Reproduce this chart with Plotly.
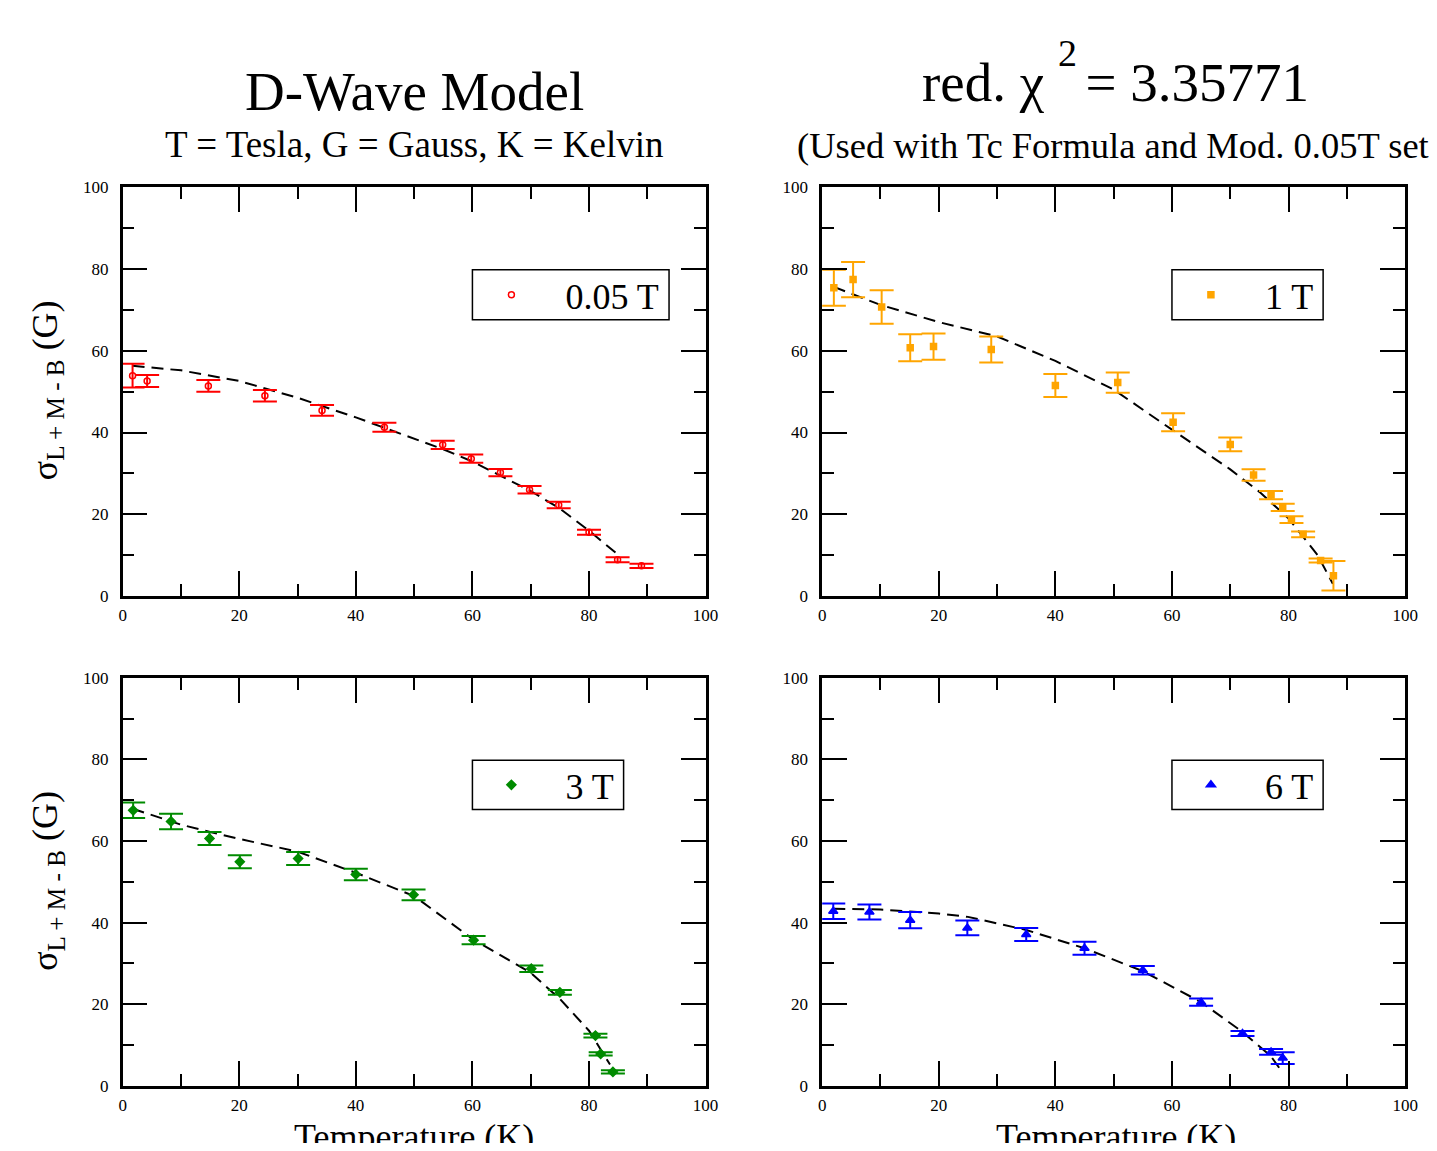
import plotly.graph_objects as go
from plotly.subplots import make_subplots

# ---------------- data ----------------
T_005 = [1.7, 4.2, 14.7, 24.4, 34.2, 44.9, 54.9, 59.8, 64.8, 69.8, 74.8, 80.0, 84.9, 89.0]
S_005 = [53.9, 52.6, 51.4, 49.0, 45.4, 41.3, 37.0, 33.6, 30.2, 26.0, 22.3, 15.6, 8.9, 7.4]
E_005 = [2.9, 1.45, 1.45, 1.4, 1.3, 1.1, 1.0, 1.0, 0.9, 0.9, 0.8, 0.6, 0.6, 0.5]
FT_005 = [1.7, 10, 20, 30, 40, 50, 55, 60, 65, 70, 75, 80, 85]
FS_005 = [56.3, 55.2, 52.6, 48.5, 43.7, 38.5, 35.9, 32.9, 29.4, 25.7, 21.4, 16.0, 10.1]

T_1 = [2.0, 5.3, 10.2, 15.1, 19.1, 29.0, 40.0, 50.7, 60.2, 70.0, 74.0, 77.0, 79.0, 80.5, 82.5, 85.5, 87.7]
S_1 = [75.4, 77.4, 70.7, 60.7, 61.0, 60.3, 51.5, 52.2, 42.5, 37.1, 29.6, 24.7, 21.7, 18.7, 15.1, 8.7, 5.0]
E_1 = [4.4, 4.3, 4.1, 3.3, 3.2, 3.2, 2.8, 2.5, 2.2, 1.7, 1.4, 1.0, 0.9, 0.8, 0.7, 0.5, 3.6]
FT_1 = [2.0, 10, 20, 30, 40, 50, 60, 70, 75, 80, 85, 87.6]
FS_1 = [75.6, 71.2, 67.0, 63.5, 57.5, 50.5, 40.7, 31.0, 25.5, 19.0, 10.0, 3.0]

T_3 = [1.8, 8.3, 14.9, 20.1, 30.1, 40.0, 49.9, 60.2, 70.1, 75.0, 81.1, 82.0, 84.1]
S_3 = [67.5, 64.8, 60.6, 54.9, 55.7, 51.8, 46.8, 35.7, 28.7, 22.9, 12.3, 7.8, 3.4]
E_3 = [1.9, 1.9, 1.6, 1.6, 1.6, 1.4, 1.3, 1.0, 0.8, 0.6, 0.45, 0.4, 0.4]
FT_3 = [1.7, 10, 15, 20, 30, 40, 50, 60, 70, 75, 80, 83.6]
FS_3 = [67.9, 64.0, 62.2, 60.5, 57.4, 52.2, 46.5, 36.0, 27.7, 21.3, 13.5, 5.2]

T_6 = [1.9, 8.1, 15.1, 24.9, 35.0, 45.0, 55.0, 65.0, 72.1, 77.0, 79.0]
S_6 = [42.8, 42.6, 40.6, 38.7, 37.1, 33.7, 28.3, 20.5, 12.8, 8.3, 6.8]
E_6 = [1.9, 1.85, 2.0, 1.8, 1.6, 1.6, 1.05, 0.9, 0.6, 0.7, 1.45]
FT_6 = [1.9, 10, 20, 25, 35, 45, 55, 65, 72, 77, 79]
FS_6 = [43.4, 43.2, 42.2, 41.4, 38.2, 33.7, 28.1, 20.5, 13.3, 7.2, 3.2]

LABELS = ["0.05 T", "1 T", "3 T", "6 T"]
COLORS = ["#ff0000", "#ffa500", "#008b00", "#0000ff"]
SYMBOLS = ["circle-open", "square", "diamond", "triangle-up"]
SIZES = [6, 6, 7, 8]

SERIF = "Liberation Serif, Times New Roman, serif"

# the page body has an 8px margin; lay the figure out so the full page is 1437x1151
PAGE_W, PAGE_H, OFF = 1437, 1151, 8
W, H = PAGE_W - 2 * OFF, PAGE_H - 2 * OFF


def px(xp):
    return (xp - OFF) / W


def py(yp):
    return 1 - (yp - OFF) / H


fig = make_subplots(rows=2, cols=2)

sets = [
    (T_005, S_005, E_005, FT_005, FS_005, 1, 1),
    (T_1, S_1, E_1, FT_1, FS_1, 1, 2),
    (T_3, S_3, E_3, FT_3, FS_3, 2, 1),
    (T_6, S_6, E_6, FT_6, FS_6, 2, 2),
]
legnames = ["legend", "legend2", "legend3", "legend4"]

for i, (tx, sy, ey, fx, fy, r, c) in enumerate(sets):
    fig.add_trace(go.Scatter(x=fx, y=fy, mode="lines", showlegend=False,
                             line=dict(color="black", width=2, dash="12px,7px"),
                             hoverinfo="skip"), row=r, col=c)
    fig.add_trace(go.Scatter(
        x=tx, y=sy, mode="markers", name="\u00a0\u00a0" + LABELS[i], legend=legnames[i],
        marker=dict(symbol=SYMBOLS[i], size=SIZES[i], color=COLORS[i],
                    line=dict(color=COLORS[i], width=1.5)),
        error_y=dict(type="data", array=ey, visible=True, color=COLORS[i],
                     thickness=2, width=12)), row=r, col=c)

xd_left = [px(120), px(710)]
xd_right = [px(828), px(1418)]
yd_top = [py(597), py(181)]
yd_bot = [py(1095), py(680)]

axis_common = dict(range=[0, 100], dtick=20, tick0=0, ticks="inside", ticklen=25,
                   tickwidth=2, tickcolor="black", showline=True, linewidth=2.5,
                   linecolor="black", mirror="allticks", showgrid=False, zeroline=False,
                   tickfont=dict(family=SERIF, size=17, color="black"),
                   minor=dict(dtick=10, ticks="inside", ticklen=12, tickwidth=2,
                              tickcolor="black", showgrid=False))

doms = {1: (xd_left, yd_top), 2: (xd_right, yd_top), 3: (xd_left, yd_bot), 4: (xd_right, yd_bot)}
for k, (xd, yd) in doms.items():
    sfx = "" if k == 1 else str(k)
    fig.layout["xaxis" + sfx].update(domain=xd, ticklabelstandoff=2, **axis_common)
    fig.layout["yaxis" + sfx].update(domain=yd, ticklabelstandoff=8, **axis_common)

# legend boxes (x0, y0, x1, y1) in page pixels
legbox = {
    "legend": (474, 265, 673, 316),
    "legend2": (1182, 265, 1335, 316),
    "legend3": (474, 764, 627, 814),
    "legend4": (1182, 764, 1335, 814),
}
shapes = []
for ln, (x0, y0, x1, y1) in legbox.items():
    shapes.append(dict(type="rect", xref="paper", yref="paper",
                       x0=px(x0), x1=px(x1), y0=py(y1), y1=py(y0),
                       line=dict(color="black", width=1.5), fillcolor="white", layer="below"))
    fig.layout[ln] = dict(x=px(x0 + 3), y=py((y0 + y1) / 2), xanchor="left", yanchor="middle",
                          bgcolor="rgba(0,0,0,0)", borderwidth=0,
                          font=dict(family=SERIF, size=36, color="black"),
                          itemwidth=62, itemsizing="trace")

ann = []
ann.append(dict(text="D-Wave Model", x=px(415), y=py(84), font=dict(size=55)))
ann.append(dict(text="T = Tesla, G = Gauss, K = Kelvin", x=px(415), y=py(138),
                font=dict(size=37)))
ann.append(dict(text="red. χ\u00a0\u00a0\u00a0= 3.35771", x=px(1125), y=py(75),
                font=dict(size=55)))
ann.append(dict(text="2", x=px(1076), y=py(45), font=dict(size=38)))
ann.append(dict(text="(Used with Tc Formula and Mod. 0.05T set)", x=px(800), y=py(139),
                xanchor="left", font=dict(size=36.5)))
for yc in (388, 887):
    ann.append(dict(text="σ<sub>L + M - B</sub> (G)", x=px(44), y=py(yc),
                    textangle=-90, font=dict(size=36)))
for xc in (415, 1125):
    ann.append(dict(text="Temperature (K)", x=px(xc), y=py(1147),
                    font=dict(size=36)))
for a in ann:
    a.setdefault("xanchor", "center")
    a.update(xref="paper", yref="paper", showarrow=False, yanchor="middle")
    a["font"].update(family=SERIF, color="black")

fig.update_layout(annotations=ann, shapes=shapes, width=W, height=H,
                  margin=dict(l=0, r=0, t=0, b=0),
                  font=dict(family=SERIF, color="black"),
                  plot_bgcolor="white", paper_bgcolor="white")

fig.write_html("out.html")
